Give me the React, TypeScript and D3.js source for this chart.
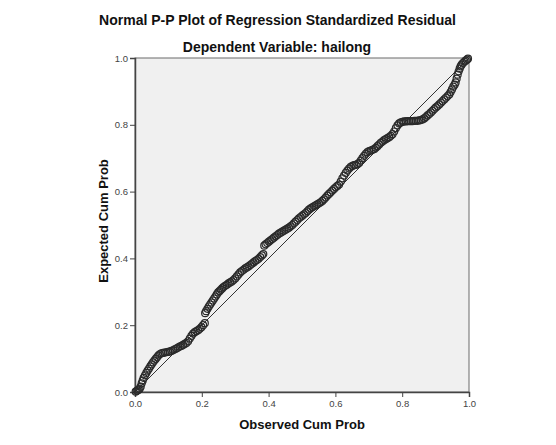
import React, { useEffect, useRef } from 'react';
import * as d3 from 'd3';

// Observed cumulative probabilities (x) and expected cumulative probabilities (y)
const observed = [
  0.002, 0.005, 0.008, 0.011, 0.014, 0.017, 0.020, 0.023, 0.026, 0.030, 0.034, 0.038, 0.042, 0.046, 0.050, 0.054,
  0.058, 0.062, 0.066, 0.070, 0.074, 0.079, 0.084, 0.089, 0.094, 0.099, 0.104, 0.109, 0.114, 0.119, 0.124, 0.129,
  0.134, 0.139, 0.144, 0.149, 0.154, 0.159, 0.164, 0.169, 0.174, 0.179, 0.184, 0.189, 0.194, 0.199, 0.204, 0.209,
  0.210, 0.213, 0.217, 0.221, 0.225, 0.229, 0.233, 0.237, 0.241, 0.245, 0.249, 0.253, 0.257, 0.261, 0.265, 0.270,
  0.275, 0.280, 0.285, 0.290, 0.295, 0.300, 0.305, 0.310, 0.315, 0.320, 0.325, 0.330, 0.335, 0.340, 0.345, 0.350,
  0.355, 0.360, 0.365, 0.370, 0.375, 0.380, 0.384,
  0.387, 0.391, 0.396, 0.401, 0.406, 0.411, 0.416, 0.421, 0.426, 0.431, 0.436, 0.441, 0.446, 0.451, 0.456, 0.461,
  0.466, 0.471, 0.476, 0.481, 0.486, 0.491, 0.496, 0.501, 0.506, 0.511, 0.516, 0.521, 0.526, 0.531, 0.536, 0.541,
  0.546, 0.551, 0.556, 0.561, 0.566, 0.571, 0.576, 0.581, 0.586, 0.591, 0.596, 0.601, 0.606, 0.611, 0.616, 0.621,
  0.626, 0.631, 0.636, 0.641, 0.646, 0.651, 0.656, 0.661, 0.666, 0.671, 0.676, 0.681, 0.686, 0.691, 0.696, 0.701,
  0.706, 0.711, 0.716, 0.721, 0.726, 0.731, 0.736, 0.741, 0.746, 0.751, 0.756, 0.761, 0.766, 0.771, 0.776, 0.781,
  0.786, 0.791,
  0.796, 0.801, 0.806, 0.811, 0.816, 0.821, 0.826, 0.831, 0.836, 0.841, 0.846, 0.851, 0.856, 0.861, 0.866, 0.871,
  0.876, 0.881, 0.886, 0.891, 0.896, 0.901, 0.906, 0.911, 0.916, 0.921, 0.926, 0.931, 0.936, 0.941, 0.945, 0.949,
  0.953, 0.957, 0.960, 0.963, 0.966, 0.969, 0.972, 0.975, 0.978, 0.982, 0.986, 0.990, 0.994, 0.997,
];

const expected = [
  0.001, 0.003, 0.005, 0.007, 0.010, 0.016, 0.026, 0.034, 0.042, 0.050, 0.057, 0.064, 0.070, 0.077, 0.083, 0.089,
  0.094, 0.099, 0.104, 0.109, 0.113, 0.116, 0.117, 0.118, 0.119, 0.120, 0.121, 0.123, 0.125, 0.128, 0.130, 0.133,
  0.136, 0.138, 0.141, 0.144, 0.147, 0.152, 0.160, 0.168, 0.175, 0.179, 0.182, 0.185, 0.189, 0.194, 0.200, 0.206,
  0.236, 0.242, 0.249, 0.256, 0.262, 0.268, 0.274, 0.280, 0.286, 0.292, 0.298, 0.302, 0.306, 0.310, 0.314, 0.318,
  0.321, 0.325, 0.328, 0.331, 0.335, 0.340, 0.346, 0.352, 0.358, 0.362, 0.366, 0.370, 0.373, 0.376, 0.380, 0.384,
  0.388, 0.392, 0.395, 0.399, 0.404, 0.409, 0.413,
  0.438, 0.442, 0.446, 0.450, 0.454, 0.458, 0.462, 0.466, 0.470, 0.474, 0.477, 0.480, 0.483, 0.486, 0.489, 0.492,
  0.496, 0.500, 0.505, 0.510, 0.515, 0.520, 0.524, 0.528, 0.532, 0.536, 0.541, 0.546, 0.550, 0.553, 0.556, 0.559,
  0.562, 0.565, 0.568, 0.572, 0.577, 0.582, 0.588, 0.593, 0.598, 0.603, 0.608, 0.613, 0.617, 0.621, 0.630, 0.640,
  0.648, 0.656, 0.663, 0.669, 0.674, 0.677, 0.679, 0.680, 0.682, 0.686, 0.693, 0.700, 0.707, 0.713, 0.718, 0.721,
  0.723, 0.725, 0.727, 0.731, 0.736, 0.741, 0.746, 0.750, 0.754, 0.757, 0.760, 0.763, 0.767, 0.772, 0.780, 0.790,
  0.798, 0.804,
  0.807, 0.809, 0.810, 0.810, 0.811, 0.811, 0.811, 0.811, 0.812, 0.812, 0.812, 0.813, 0.814, 0.816, 0.819, 0.823,
  0.828, 0.832, 0.837, 0.842, 0.847, 0.852, 0.856, 0.861, 0.866, 0.871, 0.876, 0.881, 0.886, 0.891, 0.898, 0.906,
  0.914, 0.920, 0.927, 0.938, 0.950, 0.960, 0.968, 0.975, 0.980, 0.985, 0.989, 0.992, 0.995, 0.998,
];

const tickValues = [0, 0.2, 0.4, 0.6, 0.8, 1.0];

const title = 'Normal P-P Plot of Regression Standardized Residual';
const subtitle = 'Dependent Variable: hailong';
const xLabel = 'Observed Cum Prob';
const yLabel = 'Expected Cum Prob';

const width = 556;
const height = 445;
const margin = { top: 58, right: 87, bottom: 53, left: 135 };

export default function App() {
  const svgRef = useRef<SVGSVGElement>(null);

  useEffect(() => {
    if (!svgRef.current) return;
    const svg = d3.select(svgRef.current);
    svg.selectAll('*').remove();

    const innerWidth = width - margin.left - margin.right;
    const innerHeight = height - margin.top - margin.bottom;
    const font = '"Liberation Sans", Arial, sans-serif';

    svg.append('rect')
      .attr('width', width)
      .attr('height', height)
      .attr('fill', '#ffffff');

    // Titles
    svg.append('text')
      .attr('x', 277.5)
      .attr('y', 25)
      .attr('text-anchor', 'middle')
      .style('font-family', font)
      .style('font-weight', 'bold')
      .style('font-size', '14px')
      .style('fill', '#111')
      .text(title);

    svg.append('text')
      .attr('x', 277)
      .attr('y', 52)
      .attr('text-anchor', 'middle')
      .style('font-family', font)
      .style('font-weight', 'bold')
      .style('font-size', '14px')
      .style('fill', '#111')
      .text(subtitle);

    const g = svg.append('g')
      .attr('transform', `translate(${margin.left}, ${margin.top})`);

    const xScale = d3.scaleLinear().domain([0, 1]).range([0, innerWidth]);
    const yScale = d3.scaleLinear().domain([0, 1]).range([innerHeight, 0]);

    // Plot background
    g.append('rect')
      .attr('width', innerWidth)
      .attr('height', innerHeight)
      .attr('fill', '#f0f0f0')
      .attr('stroke', '#6a6a6a')
      .attr('stroke-width', 1);

    // Axes
    const xAxis = g.append('g')
      .attr('transform', `translate(0, ${innerHeight})`)
      .call(d3.axisBottom(xScale).tickValues(tickValues).tickSize(5).tickFormat(d3.format('.1f')));

    const yAxis = g.append('g')
      .call(d3.axisLeft(yScale).tickValues(tickValues).tickSize(5).tickFormat(d3.format('.1f')));

    [xAxis, yAxis].forEach(ax => {
      ax.select('.domain').attr('stroke', '#444').attr('stroke-width', 1.5);
      ax.selectAll('.tick line').attr('stroke', '#444');
      ax.selectAll('.tick text')
        .style('font-family', font)
        .style('font-size', '9.5px')
        .style('fill', '#444');
    });
    yAxis.selectAll('.tick text').attr('x', -7);

    // Reference diagonal
    g.append('line')
      .attr('x1', xScale(0))
      .attr('y1', yScale(0))
      .attr('x2', xScale(1))
      .attr('y2', yScale(1))
      .attr('stroke', '#333')
      .attr('stroke-width', 1);

    // Points
    const points = observed.map((o, i) => ({ o, e: expected[i] }));
    g.selectAll('.pt')
      .data(points)
      .enter().append('circle')
      .attr('class', 'pt')
      .attr('cx', d => xScale(d.o))
      .attr('cy', d => yScale(d.e))
      .attr('r', 3.5)
      .attr('fill', 'none')
      .attr('stroke', '#2a2a2a')
      .attr('stroke-width', 1.2);

    // Axis labels
    svg.append('text')
      .attr('x', margin.left + innerWidth / 2)
      .attr('y', 429)
      .attr('text-anchor', 'middle')
      .style('font-family', font)
      .style('font-weight', 'bold')
      .style('font-size', '13px')
      .style('fill', '#111')
      .text(xLabel);

    svg.append('text')
      .attr('transform', `translate(108, 221) rotate(-90)`)
      .attr('text-anchor', 'middle')
      .style('font-family', font)
      .style('font-weight', 'bold')
      .style('font-size', '13px')
      .style('fill', '#111')
      .text(yLabel);
  }, []);

  return (
    <svg
      ref={svgRef}
      width={width}
      height={height}
      viewBox={`0 0 ${width} ${height}`}
      style={{ position: 'absolute', left: 0, top: 0 }}
    />
  );
}
